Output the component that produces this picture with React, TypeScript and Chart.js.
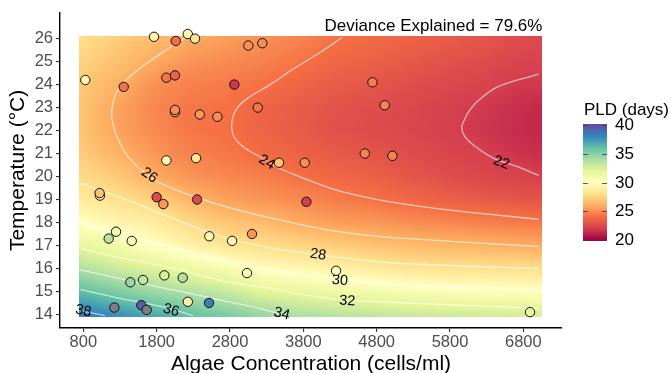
import React, { useEffect, useRef } from "react";
import { Chart, registerables } from "chart.js";

Chart.register(...registerables);

const FONT = "'Liberation Sans', Arial, Helvetica, sans-serif";

// ---- axes ----
const algaeTicks = [800, 1800, 2800, 3800, 4800, 5800, 6800];
const tempTicks = [14, 15, 16, 17, 18, 19, 20, 21, 22, 23, 24, 25, 26];
const legendTicks = [40, 35, 30, 25, 20];

// ---- observations (algae cells/ml, temperature °C, PLD days; null = NA) ----
const obsAlgae = [1764, 2060, 2224, 2323, 3050, 3241, 827, 1351, 1932, 2050, 2859, 2050, 2050, 2388, 2628, 3178, 4742, 4910, 4638, 5015, 1932, 2337, 3468, 3819, 1027, 1022, 1800, 1891, 2351, 3841, 1146, 1246, 1460, 2518, 2828, 3100, 3032, 1441, 1614, 1905, 2155, 2225, 2514, 1223, 1591, 1664, 4246, 6891];
const obsTemp = [26.08, 25.9, 26.2, 26.0, 25.7, 25.8, 24.2, 23.9, 24.3, 24.4, 24.0, 22.8, 22.9, 22.7, 22.6, 23.0, 24.1, 23.1, 21.0, 20.9, 20.7, 20.8, 20.6, 20.6, 19.17, 19.28, 19.1, 18.8, 19.0, 18.9, 17.3, 17.6, 17.2, 17.4, 17.2, 17.5, 15.8, 15.4, 15.5, 15.7, 15.6, 14.55, 14.5, 14.3, 14.4, 14.2, 15.9, 14.1];
const obsPLD = [29.3, 24.0, 29.5, 28.3, 25.0, 25.0, 29.5, 24.2, 24.3, 23.5, 21.8, 25.0, 25.0, 25.3, 25.0, 24.2, 24.5, 24.7, 24.7, 24.7, 29.8, 28.3, 26.8, 25.0, 29.0, 26.8, 22.5, 25.3, 22.5, 22.0, 33.5, 31.0, 30.5, 29.5, 29.5, 25.2, 30.3, 34.5, 33.2, 32.5, 33.7, 29.0, 38.3, null, 39.5, null, 30.0, 31.8];

// ---- fitted surface (read from the raster) ----
const heatAlgae = [750, 1250, 1750, 2250, 2750, 3250, 3750, 4250, 4750, 5250, 5750, 6250, 6750, 7050];
const heatTemp = [14, 15, 16, 17, 18, 19, 20, 21, 22, 23, 24, 25, 26];
const heatPLD = [
  [38.5, 37.7, 36.9, 36.0, 35.3, 34.5, 33.8, 33.5, 33.2, 32.9, 32.8, 32.7, 32.6, 32.5],
  [36.2, 35.3, 34.4, 33.7, 33.0, 32.0, 31.7, 31.2, 31.0, 30.6, 30.4, 30.3, 30.2, 30.1],
  [33.9, 32.9, 32.2, 31.4, 30.7, 29.8, 29.5, 29.1, 28.7, 28.3, 28.15, 28.1, 28.0, 27.95],
  [31.8, 31.0, 30.0, 29.2, 28.3, 27.9, 27.6, 27.2, 26.8, 26.5, 26.3, 26.2, 26.0, 25.9],
  [30.0, 29.3, 28.9, 27.7, 26.9, 26.5, 25.9, 25.5, 25.3, 25.0, 24.8, 24.6, 24.4, 24.3],
  [28.7, 28.1, 27.4, 26.3, 25.6, 25.2, 24.9, 24.45, 24.15, 23.75, 23.45, 23.2, 23.0, 22.9],
  [27.8, 27.1, 26.0, 25.2, 24.8, 24.5, 24.05, 23.7, 23.45, 23.05, 22.7, 22.4, 22.25, 22.05],
  [27.2, 26.2, 25.3, 24.6, 24.3, 23.9, 23.5, 23.15, 22.95, 22.6, 22.3, 22.05, 21.65, 21.5],
  [26.9, 25.7, 24.9, 24.3, 24.05, 23.6, 23.2, 22.8, 22.6, 22.35, 22.1, 21.75, 21.4, 21.25],
  [26.9, 25.7, 24.8, 24.3, 24.1, 23.6, 23.25, 22.85, 22.65, 22.4, 22.15, 21.85, 21.5, 21.3],
  [27.1, 26.2, 25.1, 24.6, 24.4, 24.1, 23.65, 23.25, 23.0, 22.7, 22.45, 22.2, 21.85, 21.8],
  [27.5, 26.7, 25.9, 25.2, 24.9, 24.6, 24.2, 23.7, 23.45, 23.1, 22.85, 22.6, 22.25, 22.2],
  [28.0, 27.3, 26.6, 25.95, 25.5, 25.1, 24.7, 24.1, 23.85, 23.55, 23.25, 23.0, 22.6, 22.45],
];
const heatAlgaeRange = [740, 7060];
const heatTempRange = [13.9, 26.1];

// ---- contour lines ----
const contourLevels = [22, 24, 26, 28, 30, 32, 34, 36, 38];
const contour22 = [[7010, 24.46], [6440, 23.89], [6165, 23.24], [6050, 22.8], [6005, 22.52], [5960, 22.16], [6000, 21.75], [6118, 21.37], [6391, 20.8], [6710, 20.44], [7010, 20.05]];
const contour24 = [[4330, 26.05], [4028, 25.4], [3673, 24.7], [3346, 24.0], [3028, 23.38], [2882, 22.9], [2824, 22.3], [2855, 21.73], [2978, 21.3], [3164, 20.94], [3482, 20.35], [3800, 19.93], [4164, 19.5], [4478, 19.22], [4982, 18.9], [5800, 18.54], [7010, 18.14]];
const contour26 = [[2200, 26.05], [1914, 25.48], [1618, 24.82], [1410, 24.28], [1277, 23.81], [1205, 23.24], [1187, 22.6], [1233, 21.95], [1300, 21.45], [1392, 20.94], [1500, 20.55], [1618, 20.22], [1846, 19.72], [2300, 19.14], [2800, 18.64], [3437, 18.14], [4164, 17.66], [4982, 17.35], [7010, 16.96]];
const contour28 = [[760, 19.7], [1300, 19.1], [1845, 18.41], [2390, 17.72], [2828, 17.25], [3346, 16.9], [4000, 16.6], [4982, 16.25], [7010, 16.0]];
const contour30 = [[760, 18.03], [1300, 17.5], [1845, 17.07], [2255, 16.73], [2664, 16.38], [3346, 15.95], [4300, 15.52], [4982, 15.31], [7010, 15.09]];
const contour32 = [[760, 16.88], [1300, 16.47], [1845, 16.12], [2255, 15.82], [2664, 15.48], [3346, 15.13], [4164, 14.69], [4982, 14.53], [7010, 14.26]];
const contour34 = [[760, 15.94], [1300, 15.56], [1845, 15.18], [2255, 14.92], [2664, 14.62], [3073, 14.36], [3577, 13.95]];
const contour36 = [[760, 15.08], [1300, 14.7], [1845, 14.36], [2296, 13.95]];
const contour38 = [[760, 14.16], [1095, 13.95]];
const contourLines = [contour22, contour24, contour26, contour28, contour30, contour32, contour34, contour36, contour38];
const labelAlgae = [6500, 3300, 1700, 4000, 4300, 4400, 3505, 1996, 800];
const labelTemp = [20.6, 20.62, 20.05, 16.6, 15.48, 14.58, 14.02, 14.18, 14.15];

// ---- annotation ----
const annotText = "Deviance Explained = 79.6%";
const annotAlgae = 7060;
const annotTemp = 26.52;

// ---- palette (Spectral, reversed: 20 red -> 40 blue) ----
const spectral = ["#9e0142", "#d53e4f", "#f46d43", "#fdae61", "#fee08b", "#ffffbf", "#e6f598", "#abdda4", "#66c2a5", "#3288bd", "#5e4fa2"];
const PLD_MIN = 20;
const PLD_MAX = 40;
const rgbStops = spectral.map((h) => [parseInt(h.slice(1, 3), 16), parseInt(h.slice(3, 5), 16), parseInt(h.slice(5, 7), 16)]);

function pldRGB(v: number): number[] {
  const t = Math.min(1, Math.max(0, (v - PLD_MIN) / (PLD_MAX - PLD_MIN))) * (rgbStops.length - 1);
  const i = Math.min(rgbStops.length - 2, Math.floor(t));
  const f = t - i;
  const a = rgbStops[i];
  const b = rgbStops[i + 1];
  return [a[0] + (b[0] - a[0]) * f, a[1] + (b[1] - a[1]) * f, a[2] + (b[2] - a[2]) * f];
}
function pldColor(v: number | null): string {
  if (v === null || v > PLD_MAX || v < PLD_MIN) return "#7f7f7f";
  const c = pldRGB(v);
  return `rgb(${Math.round(c[0])},${Math.round(c[1])},${Math.round(c[2])})`;
}

function seg(arr: number[], v: number): [number, number] {
  const n = arr.length;
  if (v <= arr[0]) return [0, 0];
  if (v >= arr[n - 1]) return [n - 2, 1];
  for (let i = 0; i < n - 1; i++) {
    if (v >= arr[i] && v <= arr[i + 1]) return [i, (v - arr[i]) / (arr[i + 1] - arr[i])];
  }
  return [n - 2, 1];
}
function surface(a: number, t: number): number {
  const [i, fx] = seg(heatAlgae, a);
  const [j, fy] = seg(heatTemp, t);
  const z00 = heatPLD[j][i];
  const z01 = heatPLD[j][i + 1];
  const z10 = heatPLD[j + 1][i];
  const z11 = heatPLD[j + 1][i + 1];
  return (z00 * (1 - fx) + z01 * fx) * (1 - fy) + (z10 * (1 - fx) + z11 * fx) * fy;
}

const heatPlugin = {
  id: "heatRaster",
  beforeDatasetsDraw(chart: any) {
    const { ctx, scales } = chart;
    const xs = scales.x;
    const ys = scales.y;
    const x0 = Math.round(xs.getPixelForValue(heatAlgaeRange[0]));
    const x1 = Math.round(xs.getPixelForValue(heatAlgaeRange[1]));
    const y0 = Math.round(ys.getPixelForValue(heatTempRange[1]));
    const y1 = Math.round(ys.getPixelForValue(heatTempRange[0]));
    const w = x1 - x0;
    const h = y1 - y0;
    const off = document.createElement("canvas");
    off.width = w;
    off.height = h;
    const octx = off.getContext("2d")!;
    const img = octx.createImageData(w, h);
    for (let j = 0; j < h; j++) {
      const t = ys.getValueForPixel(y0 + j + 0.5);
      for (let i = 0; i < w; i++) {
        const a = xs.getValueForPixel(x0 + i + 0.5);
        const c = pldRGB(surface(a, t));
        const k = (j * w + i) * 4;
        img.data[k] = c[0];
        img.data[k + 1] = c[1];
        img.data[k + 2] = c[2];
        img.data[k + 3] = 255;
      }
    }
    octx.putImageData(img, 0, 0);
    ctx.drawImage(off, x0, y0);
  },
};

const contourLabelPlugin = {
  id: "contourLabels",
  afterDatasetDraw(chart: any, args: any) {
    if (args.index !== 1) return;
    const { ctx, scales } = chart;
    const xs = scales.x;
    const ys = scales.y;
    ctx.save();
    ctx.fillStyle = "#000";
    ctx.font = `14.5px ${FONT}`;
    ctx.textAlign = "center";
    ctx.textBaseline = "middle";
    contourLevels.forEach((lvl, k) => {
      const px = xs.getPixelForValue(labelAlgae[k]);
      const py = ys.getPixelForValue(labelTemp[k]);
      const pts = contourLines[k].map((p) => [xs.getPixelForValue(p[0]), ys.getPixelForValue(p[1])]);
      let best = Infinity;
      let ang = 0;
      for (let i = 0; i < pts.length - 1; i++) {
        const [ax, ay] = pts[i];
        const [bx, by] = pts[i + 1];
        const dx = bx - ax;
        const dy = by - ay;
        const L = dx * dx + dy * dy || 1;
        let u = ((px - ax) * dx + (py - ay) * dy) / L;
        u = Math.max(0, Math.min(1, u));
        const cx = ax + u * dx;
        const cy = ay + u * dy;
        const d = (px - cx) ** 2 + (py - cy) ** 2;
        if (d < best) {
          best = d;
          ang = Math.atan2(dy, dx);
        }
      }
      if (ang > Math.PI / 2) ang -= Math.PI;
      if (ang < -Math.PI / 2) ang += Math.PI;
      ctx.save();
      ctx.translate(px, py);
      ctx.rotate(ang);
      ctx.fillText(String(lvl), 0, 0);
      ctx.restore();
    });
    ctx.restore();
  },
};

const decorPlugin = {
  id: "decor",
  afterDraw(chart: any) {
    const { ctx, chartArea, scales } = chart;
    const xs = scales.x;
    const ys = scales.y;
    ctx.save();
    ctx.fillStyle = "#000";
    // axis titles
    ctx.font = `21px ${FONT}`;
    ctx.textAlign = "center";
    ctx.textBaseline = "alphabetic";
    ctx.fillText("Algae Concentration (cells/ml)", (chartArea.left + chartArea.right) / 2, chartArea.bottom + 41.5);
    ctx.save();
    ctx.translate(chartArea.left - 36, (chartArea.top + chartArea.bottom) / 2);
    ctx.rotate(-Math.PI / 2);
    ctx.fillText("Temperature (°C)", 0, 0);
    ctx.restore();

    // annotation
    ctx.font = `17px ${FONT}`;
    ctx.textAlign = "right";
    ctx.textBaseline = "middle";
    ctx.fillText(annotText, xs.getPixelForValue(annotAlgae), ys.getPixelForValue(annotTemp));

    // colour bar legend
    const barL = chartArea.right + 21;
    const barW = 24;
    const vTop = 125;
    const vBot = 240;
    const pv = (v: number) => vTop + ((PLD_MAX - v) / (PLD_MAX - PLD_MIN)) * (vBot - vTop);
    const g = ctx.createLinearGradient(0, pv(PLD_MAX), 0, pv(PLD_MIN));
    spectral.forEach((c, i) => {
      g.addColorStop(i / (spectral.length - 1), spectral[spectral.length - 1 - i]);
    });
    ctx.fillStyle = g;
    ctx.fillRect(barL, vTop - 1, barW, vBot - vTop + 2);
    ctx.strokeStyle = "rgba(60,60,60,0.85)";
    ctx.lineWidth = 1;
    legendTicks.forEach((v) => {
      const y = Math.round(pv(v)) + 0.5;
      ctx.beginPath();
      ctx.moveTo(barL, y);
      ctx.lineTo(barL + 4.8, y);
      ctx.moveTo(barL + barW - 4.8, y);
      ctx.lineTo(barL + barW, y);
      ctx.stroke();
    });
    ctx.fillStyle = "#000";
    ctx.font = `17px ${FONT}`;
    ctx.textAlign = "left";
    ctx.textBaseline = "middle";
    legendTicks.forEach((v) => {
      ctx.fillText(String(v), barL + barW + 8, pv(v) + 0.5);
    });
    ctx.textBaseline = "alphabetic";
    ctx.fillText("PLD (days)", barL + 1, vTop - 10.5);
    ctx.restore();
  },
};

export default function App() {
  const ref = useRef<HTMLCanvasElement | null>(null);
  useEffect(() => {
    if (!ref.current) return;
    Chart.defaults.font.family = FONT;
    const pointColors = obsPLD.map((v) => pldColor(v));
    const chart = new Chart(ref.current, {
      type: "scatter",
      data: {
        datasets: [
          {
            label: "observations",
            data: obsAlgae.map((a, i) => ({ x: a, y: obsTemp[i] })),
            backgroundColor: pointColors,
            borderColor: "#111",
            borderWidth: 1,
            pointRadius: 4.7,
            pointHoverRadius: 4.7,
          } as any,
          ...contourLines.map((pts, k) => ({
            label: "contour " + contourLevels[k],
            data: pts.map((p) => ({ x: p[0], y: p[1] })),
            showLine: true,
            borderColor: "rgba(255,255,255,0.62)",
            borderWidth: 1.3,
            pointRadius: 0,
            pointHoverRadius: 0,
            tension: 0.35,
            fill: false,
          })),
        ],
      },
      options: {
        responsive: false,
        animation: false,
        events: [],
        layout: { padding: { left: 0, top: 10, right: 109, bottom: 0 } },
        plugins: { legend: { display: false }, tooltip: { enabled: false } },
        scales: {
          x: {
            type: "linear",
            min: 482,
            max: 7327,
            afterBuildTicks: (s: any) => {
              s.ticks = algaeTicks.map((v) => ({ value: v }));
            },
            afterFit: (s: any) => {
              s.height = 45;
            },
            grid: { drawOnChartArea: false, drawTicks: true, tickLength: 4, color: "#333", lineWidth: 1.1 },
            border: { display: true, color: "#000", width: 1.4 },
            ticks: {
              color: "#4d4d4d",
              font: { size: 16.5 },
              padding: 1,
              maxRotation: 0,
              autoSkip: false,
              callback: (v: any) => String(v),
            },
          },
          y: {
            type: "linear",
            min: 13.41,
            max: 27.12,
            afterBuildTicks: (s: any) => {
              s.ticks = tempTicks.map((v) => ({ value: v }));
            },
            afterFit: (s: any) => {
              s.width = 60;
            },
            grid: { drawOnChartArea: false, drawTicks: true, tickLength: 4, color: "#333", lineWidth: 1.1 },
            border: { display: true, color: "#000", width: 1.4 },
            ticks: { color: "#4d4d4d", font: { size: 16.5 }, padding: 3, autoSkip: false, callback: (v: any) => String(v) },
          },
        },
      } as any,
      plugins: [heatPlugin, contourLabelPlugin, decorPlugin],
    });
    return () => chart.destroy();
  }, []);
  return (
    <div style={{ position: "absolute", left: 0, top: 0, width: 671, height: 373 }}>
      <canvas ref={ref} width={671} height={373} style={{ display: "block" }} />
    </div>
  );
}
